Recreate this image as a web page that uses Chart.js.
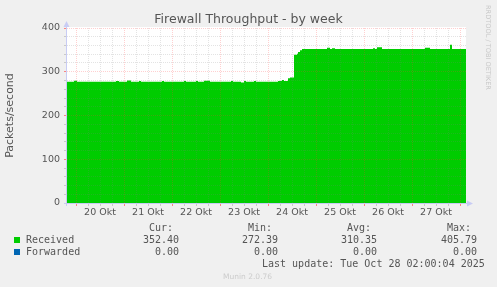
<!DOCTYPE html>
<html>
<head>
<meta charset="utf-8">
<title>Firewall Throughput - by week</title>
<script src="https://cdn.jsdelivr.net/npm/chart.js@4.4.1/dist/chart.umd.min.js"></script>
<style>
  html, body { margin: 0; padding: 0; background: #f0f0f0; }
  #fwChart { display: block; }
</style>
</head>
<body>
<canvas id="fwChart" width="497" height="287"></canvas>
<script>
// time in hours from 20 Okt 00:00, value holds until the next entry
var hours = [-4.5, -1, 0.5, 20, 21.5, 25.5, 27.5, 31.5, 32.5, 43, 44, 54, 55, 60, 61, 64, 67,
    77.5, 78.5, 82.5, 84, 85, 89, 90, 101, 103, 104, 106, 107, 109, 110.5, 111, 112, 113,
    125.5, 127, 128, 129.5, 148.5, 149.5, 150.5, 153, 174.5, 177, 187, 188, 195];
var received = [277, 279.5, 277, 279, 277, 280, 277, 279, 277, 279, 277, 279, 277, 279, 277, 279.5, 277,
    279, 277, 275.5, 279, 277, 279, 277, 279, 281, 279, 285, 287, 339, 341, 345, 349, 352,
    355, 352, 354, 352, 354, 352, 356, 352, 355, 352, 362, 352, 352];
var forwardedHours = [-4.5, 195];
var forwarded = [0, 0];

var dayLabels = ['20 Okt', '21 Okt', '22 Okt', '23 Okt', '24 Okt', '25 Okt', '26 Okt', '27 Okt'];
var statHeaders = ['Cur:', 'Min:', 'Avg:', 'Max:'];
var receivedStats = ['352.40', '272.39', '310.35', '405.79'];
var forwardedStats = ['0.00', '0.00', '0.00', '0.00'];

var gridGray = 'rgba(128,128,128,0.22)';
var gridRed = 'rgba(255,60,60,0.24)';
var tickGray = 'rgba(128,128,128,0.35)';
var tickRed = 'rgba(255,60,60,0.6)';
var axisBlue = '#c8ccf4';
var textGray = '#555555';

function toPoints(xs, ys) {
    return xs.map(function(x, i) { return {x: x, y: ys[i]}; });
}

var decorations = {
    id: 'decorations',
    beforeDraw: function(chart) {
        var ctx = chart.ctx, a = chart.chartArea;
        ctx.save();
        ctx.fillStyle = '#f0f0f0';
        ctx.fillRect(0, 0, chart.width, chart.height);
        ctx.fillStyle = '#ffffff';
        ctx.fillRect(a.left, a.top - 1, a.right - a.left, a.bottom - a.top + 1);
        ctx.restore();
    },
    afterDraw: function(chart) {
        var ctx = chart.ctx, a = chart.chartArea;
        ctx.save();

        // axes with arrow heads
        ctx.strokeStyle = axisBlue;
        ctx.fillStyle = axisBlue;
        ctx.lineWidth = 1;
        ctx.beginPath();
        ctx.moveTo(a.left - 0.5, a.bottom + 3);
        ctx.lineTo(a.left - 0.5, a.top - 4);
        ctx.moveTo(a.left - 3, a.bottom + 0.5);
        ctx.lineTo(a.right + 3, a.bottom + 0.5);
        ctx.stroke();
        ctx.beginPath();
        ctx.moveTo(a.left - 3.5, a.top - 1);
        ctx.lineTo(a.left + 2.5, a.top - 1);
        ctx.lineTo(a.left - 0.5, a.top - 7);
        ctx.closePath();
        ctx.fill();
        ctx.beginPath();
        ctx.moveTo(a.right + 1, a.bottom - 2.5);
        ctx.lineTo(a.right + 1, a.bottom + 3.5);
        ctx.lineTo(a.right + 7, a.bottom + 0.5);
        ctx.closePath();
        ctx.fill();

        // title
        ctx.fillStyle = textGray;
        ctx.font = '12.5px "DejaVu Sans"';
        ctx.textAlign = 'center';
        ctx.textBaseline = 'alphabetic';
        ctx.fillText('Firewall Throughput - by week', 248.5, 23);

        // vertical credit on the right
        ctx.save();
        ctx.translate(488, 5);
        ctx.rotate(Math.PI / 2);
        ctx.fillStyle = '#c8c8c8';
        ctx.font = '6.6px "DejaVu Sans"';
        ctx.textAlign = 'left';
        ctx.textBaseline = 'middle';
        ctx.fillText('RRDTOOL / TOBI OETIKER', 0, 0);
        ctx.restore();

        // legend
        var ds = chart.data.datasets;
        ctx.font = '10px "DejaVu Sans Mono"';
        ctx.textBaseline = 'alphabetic';
        var colRight = [179, 278, 377, 477];
        ctx.textAlign = 'right';
        statHeaders.forEach(function(h, i) { ctx.fillText(h, colRight[i] - 6, 231); });
        var rows = [[ds[0], receivedStats, 243], [ds[1], forwardedStats, 255]];
        rows.forEach(function(r) {
            ctx.fillStyle = r[0].backgroundColor;
            ctx.fillRect(14, r[2] - 6, 6, 6);
            ctx.fillStyle = textGray;
            ctx.textAlign = 'left';
            ctx.fillText(r[0].label, 26, r[2]);
            ctx.textAlign = 'right';
            r[1].forEach(function(v, i) { ctx.fillText(v, colRight[i], r[2]); });
        });
        ctx.textAlign = 'left';
        ctx.fillText('Last update: Tue Oct 28 02:00:04 2025', 262, 267);

        ctx.fillStyle = '#cccccc';
        ctx.font = '7.5px "DejaVu Sans"';
        ctx.fillText('Munin 2.0.76', 223, 279);
        ctx.restore();
    }
};

var ctx = document.getElementById('fwChart');
var fwChart = new Chart(ctx, {
    type: 'line',
    data: {
        datasets: [{
            label: 'Received',
            data: toPoints(hours, received),
            stepped: true,
            fill: 'origin',
            backgroundColor: '#00cc00',
            borderColor: '#00cc00',
            borderWidth: 0,
            pointRadius: 0
        }, {
            label: 'Forwarded',
            data: toPoints(forwardedHours, forwarded),
            stepped: true,
            fill: 'origin',
            backgroundColor: '#0066b3',
            borderColor: '#0066b3',
            borderWidth: 0,
            pointRadius: 0
        }]
    },
    options: {
        responsive: false,
        animation: false,
        events: [],
        layout: { padding: { left: 0, right: 31, top: 28, bottom: 0 } },
        plugins: {
            legend: { display: false },
            title: { display: false },
            tooltip: { enabled: false }
        },
        scales: {
            x: {
                type: 'linear',
                min: -4.5,
                max: 195,
                afterBuildTicks: function(scale) {
                    var t = [];
                    for (var h = 0; h <= 192; h += 6) t.push({value: h});
                    scale.ticks = t;
                },
                afterFit: function(scale) { scale.height = 84; },
                ticks: {
                    autoSkip: false,
                    maxRotation: 0,
                    padding: 1,
                    color: textGray,
                    font: { family: 'DejaVu Sans', size: 9.5 },
                    callback: function(v) {
                        return v % 24 === 12 ? dayLabels[(v - 12) / 24] : '';
                    }
                },
                grid: {
                    z: 1,
                    tickLength: 3,
                    color: function(c) { return c.tick && c.tick.value % 24 === 0 ? gridRed : gridGray; },
                    tickColor: function(c) { return c.tick && c.tick.value % 24 === 0 ? tickRed : tickGray; }
                },
                border: { display: false, dash: [1, 1] }
            },
            y: {
                min: 0,
                max: 400,
                afterFit: function(scale) { scale.width = 67; },
                ticks: {
                    stepSize: 20,
                    autoSkip: false,
                    padding: 4,
                    color: textGray,
                    font: { family: 'DejaVu Sans', size: 9.5 },
                    callback: function(v) { return v % 100 === 0 ? v : ''; }
                },
                grid: {
                    z: 1,
                    tickLength: 3,
                    color: function(c) { return c.tick && c.tick.value % 100 === 0 ? gridRed : gridGray; },
                    tickColor: function(c) { return c.tick && c.tick.value % 100 === 0 ? tickRed : tickGray; }
                },
                border: { display: false, dash: [1, 1] },
                title: {
                    display: true,
                    text: 'Packets/second',
                    color: textGray,
                    font: { family: 'DejaVu Sans', size: 11 },
                    padding: { top: 4, bottom: 0 }
                }
            }
        }
    },
    plugins: [decorations]
});
</script>
</body>
</html>
